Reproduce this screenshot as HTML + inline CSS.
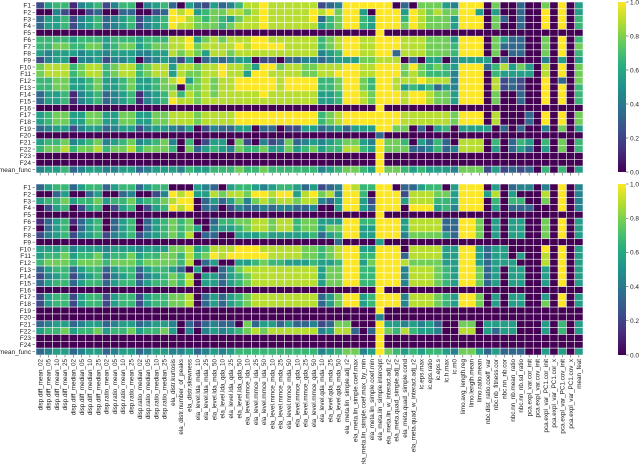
<!DOCTYPE html>
<html><head><meta charset="utf-8"><style>
html,body{margin:0;padding:0;background:#fff;}
svg{display:block;font-family:"Liberation Sans",sans-serif;}
</style></head><body>
<svg id="chart" width="640" height="464" viewBox="0 0 640 464" xmlns="http://www.w3.org/2000/svg">
<defs>
<linearGradient id="vir" x1="0" y1="1" x2="0" y2="0">
<stop offset="0" stop-color="#440154"/><stop offset="0.125" stop-color="#472d7b"/><stop offset="0.25" stop-color="#3b528b"/><stop offset="0.375" stop-color="#2c728e"/><stop offset="0.5" stop-color="#21918c"/><stop offset="0.625" stop-color="#28ae80"/><stop offset="0.75" stop-color="#5ec962"/><stop offset="0.875" stop-color="#addc30"/><stop offset="1" stop-color="#fde725"/>
</linearGradient>
</defs>
<g id="root"></g>
</svg>
<script>
const columns = ["disp.diff_mean_02","disp.diff_mean_05","disp.diff_mean_10","disp.diff_mean_25","disp.diff_median_02","disp.diff_median_05","disp.diff_median_10","disp.diff_median_25","disp.ratio_mean_02","disp.ratio_mean_05","disp.ratio_mean_10","disp.ratio_mean_25","disp.ratio_median_02","disp.ratio_median_05","disp.ratio_median_10","disp.ratio_median_25","ela_distr.kurtosis","ela_distr.number_of_peaks","ela_distr.skewness","ela_level.lda_mda_10","ela_level.lda_mda_25","ela_level.lda_mda_50","ela_level.lda_qda_10","ela_level.lda_qda_25","ela_level.lda_qda_50","ela_level.mmce_lda_10","ela_level.mmce_lda_25","ela_level.mmce_lda_50","ela_level.mmce_mda_10","ela_level.mmce_mda_25","ela_level.mmce_mda_50","ela_level.mmce_qda_10","ela_level.mmce_qda_25","ela_level.mmce_qda_50","ela_level.qda_mda_10","ela_level.qda_mda_25","ela_level.qda_mda_50","ela_meta.lin_simple.adj_r2","ela_meta.lin_simple.coef.max","ela_meta.lin_simple.coef.max_by_min","ela_meta.lin_simple.coef.min","ela_meta.lin_simple.intercept","ela_meta.lin_w_interact.adj_r2","ela_meta.quad_simple.adj_r2","ela_meta.quad_simple.cond","ela_meta.quad_w_interact.adj_r2","ic.eps.max","ic.eps.ratio","ic.eps.s","ic.h.max","ic.m0","limo.avg_length.reg","limo.length.mean","limo.ratio.mean","nbc.dist_ratio.coeff_var","nbc.nb_fitness.cor","nbc.nn_nb.cor","nbc.nn_nb.mean_ratio","nbc.nn_nb.sd_ratio","pca.expl_var.cor_init","pca.expl_var.cov_init","pca.expl_var_PC1.cor_init","pca.expl_var_PC1.cor_x","pca.expl_var_PC1.cov_init","pca.expl_var_PC1.cov_x","mean_feat"];
const rowLabels = ["F1","F2","F3","F4","F5","F6","F7","F8","F9","F10","F11","F12","F13","F14","F15","F16","F17","F18","F19","F20","F21","F22","F23","F24","mean_func"];
const cbTicks = ["0.0","0.2","0.4","0.6","0.8","1.0"];
const Z = "0000000000000000000000000000000000";
const topValues = [
"2566145624660456"+"305325346889888888"+"23499999903077754999070030070905",
"0042002300330023"+"989567788789888889"+"89799509995987877995050030090905",
"3556245634562456"+"998767657889888889"+"36799659996987775999073030090906",
"3556245634562456"+"988777678889888888"+"56799659997987775999070030090906",
Z+"00000009000000000000000000000000",
"6666566656665666"+"889578788899888888"+"67899889998887775999075330070906",
"6677667756775677"+"889788889899998888"+"67899889998887776999073330070907",
"5455545545554455"+"878758878888888888"+"45699889938887776999070330070906",
"2455044524450345"+"425034345502203344"+"34555778880305504555503000040505",
"7888678867886788"+"588788988759978877"+"88899889997976765999368575080907",
"7888678867886788"+"587788988599888877"+"88999889997876664999065555080907",
"6677556755675567"+"895787889999989999"+"66799769988898884999082320090307",
"6677556755675567"+"707787889999989999"+"66799769985656354999082320090906",
"3556145634561456"+"868787888889888888"+"55699879998998775999070030090906",
"3556145634561456"+"988788888888888888"+"55699879998998775999070030090906",
Z+"00000009000000000000000000000000",
"5677557755775577"+"888788889999999999"+"67899999998888887999080003090907",
"5677557755775577"+"888788889999999999"+"67899999998888887999080003090907",
"3455245534552455"+"435024335503302255"+"34535559977030560555503030040705",
Z+"00000003000000000000000000000000",
"5667456745674567"+"406025507204237345"+"45677549776053630888060365060706",
"6778677867786777"+"607356547667557567"+"56688659777334634888050353050706",
Z+"00000009000000000000000000000000",
Z+"00000009000000000000000000000000",
"4556345544553455"+"546556667667666666"+"45677659776565554777252323060605"
];
const bottomValues = [
"3566356635663566"+"000543056654566535"+"23498669903356605999050344040904",
"0035003500340024"+"989558788799899589"+"78499609992888775999580500080904",
"5667566756675667"+"899035357478788788"+"43599529995888665999060660070904",
"0256025602560256"+"989033024334344334"+"00599539990999564999050333000904",
Z+"00000009000000000000000000000000",
"1356135603560356"+"767003667788788677"+"55599669995888833997050550070905",
"0356035603560356"+"767504556788788677"+"57799559995888833997050550070905",
"2456245624562456"+"768033005556555556"+"35699559994777753997050550070905",
Z+"00300005000000000000000000000000",
"5556455545554555"+"778568889998888877"+"67899559990888855995355000090905",
"5667566756675667"+"768679899999888877"+"67899669993888855995355050080905",
"6777677767776777"+"768035005567665556"+"55699579998777755995355500080905",
"3566356635663566"+"530500357888888888"+"57799669994888765997350550050905",
"2456245624562456"+"768055356788888888"+"57799669994888765997350550050905",
"3566356635663566"+"768055356788888888"+"57799669994888765997350550050905",
Z+"00000009000000000000000000000000",
"2566256625662566"+"778035356788888888"+"35799569994888765997050550050905",
"2566256625662566"+"778035356788888888"+"35799569994888765997050550070905",
Z+"00000009000000000000000000000000",
Z+"00000004000000000000000000000000",
"3455345534553455"+"403134330735535334"+"23770009554545300770555500050605",
"5667566756675667"+"504045456787888888"+"45883039768655400880535500050605",
Z+"00000009000000000000000000000000",
Z+"00000009000000000000000000000000",
"3455345534553455"+"445345456666666666"+"45677459765656654775353330050505"
];

const VIR = ["#440154","#472d7b","#3b528b","#2c728e","#21918c","#28ae80","#5ec962","#addc30","#fde725"];
function hex(c){return [parseInt(c.slice(1,3),16),parseInt(c.slice(3,5),16),parseInt(c.slice(5,7),16)];}
function viridis(v){v=Math.max(0,Math.min(1,v));const t=v*8;const i=Math.min(7,Math.floor(t));const f=t-i;const a=hex(VIR[i]),b=hex(VIR[i+1]);return "rgb("+a.map((x,k)=>Math.round(x+(b[k]-x)*f)).join(",")+")";}

const NS="http://www.w3.org/2000/svg";
const root=document.getElementById("root");
function mk(tag,attrs,parent){const e=document.createElementNS(NS,tag);for(const k in attrs)e.setAttribute(k,attrs[k]);(parent||root).appendChild(e);return e;}

const X0=36, X1=583;
const xScale = c => X0 + c*(X1-X0)/columns.length;
const cw=(X1-X0)/columns.length;

function drawHeat(values, y0, y1, name, showX){
  const g=mk("g",{});
  
  
  const rh=(y1-y0)/rowLabels.length;
  const yScale = r => y0 + r*rh;
  values.forEach((row,r)=>{
    for(let c=0;c<columns.length;c++){
      const d=parseInt(row[c]||"0",10);
      const rect=mk("rect",{x:xScale(c),y:yScale(r),width:cw,height:rh,fill:viridis(d/9),stroke:"#fff","stroke-width":0.6,"stroke-opacity":0.85},g);
      
      
    }
  });
  rowLabels.forEach((lab,r)=>{
    const t=mk("text",{x:31,y:yScale(r)+rh/2+2.3,"font-size":6.5,"text-anchor":"end",fill:"#222"},g);
    t.textContent=lab;
    
    
    mk("line",{x1:32.5,x2:35,y1:yScale(r)+rh/2,y2:yScale(r)+rh/2,stroke:"#333","stroke-width":0.5},g);
  });
  columns.forEach((lab,c)=>{
    const cx=xScale(c)+cw/2;
    mk("line",{x1:cx,x2:cx,y1:y1,y2:y1+2.5,stroke:"#333","stroke-width":0.5},g);
    if(showX){
      const t=mk("text",{x:0,y:0,"font-size":6.3,"text-anchor":"end",fill:"#222",transform:"translate("+(cx+2.2)+","+(y1+4)+") rotate(-90)"},g);
      t.textContent=lab;
      
      
    }
  });
}
function drawBar(y0,y1,name){
  const g=mk("g",{});
  
  
  mk("rect",{x:618,y:y0,width:8,height:y1-y0,fill:"url(#vir)"},g);
  cbTicks.forEach((lab,i)=>{
    const y=y1-(y1-y0)*parseFloat(lab);
    mk("line",{x1:626,x2:628.5,y1:y,y2:y,stroke:"#333","stroke-width":0.5},g);
    const t=mk("text",{x:630,y:y+2.3,"font-size":6.5,fill:"#222"},g);
    t.textContent=lab;
    
    
  });
}
drawHeat(topValues,2,173,"top-heatmap",false);
drawHeat(bottomValues,184,355,"bottom-heatmap",true);
drawBar(2,172,"top-colorbar");
drawBar(184,355,"bottom-colorbar");
</script>
</body></html>
